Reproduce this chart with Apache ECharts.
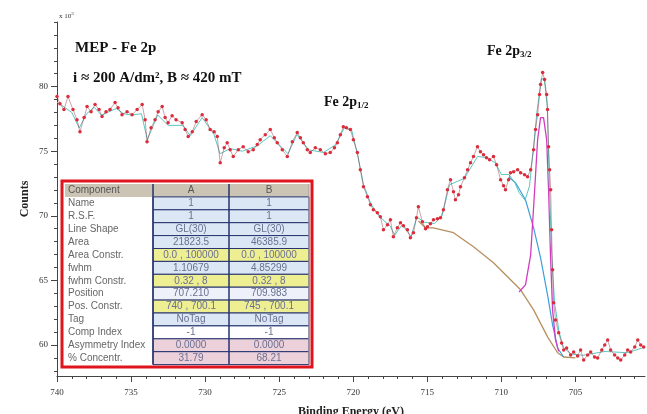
<!DOCTYPE html>
<html>
<head>
<meta charset="utf-8">
<script src="https://cdn.jsdelivr.net/npm/echarts@6/dist/echarts.min.js"></script>
<style>
html, body { margin: 0; padding: 0; background: #fff; }
#main { width: 647px; height: 414px; }
</style>
</head>
<body>
<div id="main"></div>
<script>
// measured spectrum (binding energy in eV, counts x10^3)
const energy = [740.00,739.80,739.53,739.26,738.92,738.65,738.45,738.17,737.97,737.70,737.43,737.16,736.96,736.69,736.42,736.08,735.88,735.61,735.27,734.93,734.59,734.25,734.05,733.92,733.65,733.38,733.17,732.90,732.70,732.50,732.23,731.96,731.55,731.35,731.14,730.87,730.60,730.20,729.93,729.66,729.39,729.18,728.98,728.71,728.51,728.31,728.10,727.76,727.43,727.09,726.75,726.48,726.28,725.94,725.60,725.33,725.13,724.79,724.45,724.11,723.78,723.57,723.37,723.10,722.90,722.56,722.22,721.88,721.55,721.27,721.07,720.87,720.67,720.46,720.19,719.99,719.72,719.52,719.31,719.04,718.84,718.64,718.37,718.17,717.96,717.69,717.49,717.29,717.02,716.81,716.61,716.34,716.14,715.93,715.73,715.60,715.33,715.12,714.99,714.79,714.58,714.31,714.11,713.91,713.64,713.43,713.23,713.10,712.89,712.76,712.49,712.28,712.08,711.88,711.61,711.41,711.20,711.00,710.80,710.53,710.32,710.05,709.85,709.72,709.51,709.38,709.17,708.90,708.70,708.43,708.23,708.02,707.82,707.69,707.55,707.42,707.35,707.21,707.08,706.94,706.88,706.81,706.74,706.67,706.61,706.54,706.47,706.34,706.13,705.93,705.79,705.59,705.32,705.12,704.85,704.65,704.44,704.17,703.97,703.70,703.50,703.22,703.02,702.82,702.62,702.35,702.14,701.94,701.67,701.47,701.27,700.99,700.79,700.59,700.39];
const counts = [79.23,78.68,78.22,79.23,78.22,77.44,76.51,77.60,78.45,78.06,78.61,78.22,77.68,78.06,78.22,78.76,78.37,77.83,78.06,77.83,78.22,78.61,77.44,75.74,76.82,77.44,78.06,78.45,77.60,77.21,77.75,77.44,77.21,76.67,76.13,76.51,77.29,77.83,77.44,76.67,76.51,76.13,74.11,75.27,75.66,75.12,74.58,75.12,75.35,74.96,75.12,75.51,75.89,76.28,76.67,76.05,75.66,75.12,74.58,75.74,76.44,76.05,75.66,75.12,74.89,75.27,75.12,74.81,74.89,75.27,75.66,76.28,76.90,76.82,76.67,75.89,74.89,73.57,72.25,71.48,70.86,70.47,70.24,69.93,68.92,69.31,69.69,68.38,69.07,69.46,69.23,68.92,68.30,68.69,69.85,70.70,69.54,69.00,69.15,69.38,69.69,69.77,69.85,70.47,72.02,72.79,71.86,71.24,71.63,72.25,72.95,73.57,74.11,74.58,75.35,74.96,74.73,74.50,74.34,74.58,73.96,72.79,72.33,72.02,72.79,73.34,73.41,73.57,73.34,73.18,73.03,73.57,75.12,76.67,77.83,79.38,80.16,81.09,80.54,79.38,78.22,75.35,73.57,72.02,68.92,65.82,63.26,61.94,60.94,60.16,59.62,59.77,59.23,59.46,59.15,59.62,58.84,59.23,59.46,59.07,58.99,59.62,60.00,60.39,59.62,59.23,58.99,58.84,59.23,59.62,59.46,59.85,60.39,60.00,59.85];

// fit envelope
const envE = [740,739,738.5,738,737.5,737,736,735.5,735,734.3,733.9,733.2,732.5,731.5,731,730.2,729.4,729,728.3,727.5,726.5,725.6,725,724.4,723.8,723,722,721.2,720.6,720.1,719.7,719.3,718.8,718.2,717.5,717.2,716.7,716.1,715.7,715.2,714.5,714,713.5,712.5,711.6,711,710.4,710,709.5,709.1,708.8,708.4,708.1,707.9,707.6,707.3,707.1,706.9,706.75,706.6,706.4,706.1,705.8,705.3,704.5,703,701.5,700.4];
const envC = [78.8,78.0,76.8,77.9,78.4,77.8,78.3,77.9,77.8,77.9,75.9,77.8,77.0,77.0,76.2,77.6,76.3,74.8,75.2,75.0,75.4,76.2,75.5,74.8,76.3,75.1,74.9,75.5,76.8,76.6,74.7,72.4,70.9,69.9,69.2,68.5,69.3,68.4,69.9,69.5,69.4,70.0,72.4,72.9,74.6,74.5,74.1,73.2,73.2,72.6,71.8,71.2,72.3,74.5,78.0,80.6,80.6,78.5,72.0,67.0,63.2,61.0,59.8,59.3,59.2,59.5,59.4,59.8];

// Shirley background
const bgE = [715.6,715.12,714.58,713.23,711.88,710.53,709.58,708.70,707.82,706.88,706.20,705.79,705.0];
const bgC = [69.6,69.07,69.07,68.69,67.60,66.36,65.28,64.27,62.72,60.63,59.40,59.07,59.0];

// component A
const compAE = [709.5,709.04,708.37,707.82,707.35,706.88,706.54,706.20,705.79];
const compAC = [73.0,72.56,71.24,69.07,66.75,63.88,61.56,59.77,59.07];

// component B
const compBE = [708.8,708.37,708.02,707.75,707.55,707.35,707.15,706.94,706.81,706.67,706.54,706.34,706.13];
const compBC = [64.1,64.65,66.98,72.0,75.9,77.6,77.6,75.9,72.0,66.6,62.7,60.4,59.5];

const xMajor = [740, 735, 730, 725, 720, 715, 710, 705];
const yMajor = [60, 65, 70, 75, 80];

// component table
const tableRows = ['Name','R.S.F.','Line Shape','Area','Area Constr.','fwhm','fwhm Constr.','Position','Pos. Constr.','Tag','Comp Index','Asymmetry Index','% Concentr.'];
const colA = ['1','1','GL(30)','21823.5','0.0 , 100000','1.10679','0.32 , 8','707.210','740 , 700.1','NoTag','-1','0.0000','31.79'];
const colB = ['1','1','GL(30)','46385.9','0.0 , 100000','4.85299','0.32 , 8','709.983','745 , 700.1','NoTag','-1','0.0000','68.21'];

function pairs(xs, ys) {
  return xs.map(function (x, i) { return [x, ys[i]]; });
}
function range(a, b) {
  var out = [];
  for (var v = a; v <= b; v++) out.push(v);
  return out;
}

var rowFill = ['#dce7f6','#dce7f6','#dce7f6','#dce7f6','#eeee92','#dce7f6','#eeee92','#eef1fa','#eeee92','#dce7f6','#ffffff','#ecd0da','#ecd0da'];

function buildTable() {
  var x0 = 62, y0 = 181, w = 250, h = 186;
  var g = [];
  g.push({ type: 'rect', shape: { x: x0, y: y0, width: w, height: h },
    style: { fill: '#fff', stroke: '#e0141c', lineWidth: 3 }, z: 100 });
  var cx = [65, 153, 229, 309];
  var top = 184, rh = 12.9;
  g.push({ type: 'rect', shape: { x: 65, y: top, width: 244, height: rh },
    style: { fill: '#cbc4b4' }, z: 101 });
  var tf = '10px "Liberation Sans", Arial, sans-serif';
  g.push({ type: 'text', x: 68, y: top + rh / 2, style: { text: 'Component', font: tf, fill: '#555', verticalAlign: 'middle' }, z: 103 });
  g.push({ type: 'text', x: 191, y: top + rh / 2, style: { text: 'A', font: tf, fill: '#555', align: 'center', verticalAlign: 'middle' }, z: 103 });
  g.push({ type: 'text', x: 269, y: top + rh / 2, style: { text: 'B', font: tf, fill: '#555', align: 'center', verticalAlign: 'middle' }, z: 103 });
  for (var i = 0; i < tableRows.length; i++) {
    var y = top + rh * (i + 1);
    g.push({ type: 'rect', shape: { x: cx[1], y: y, width: cx[3] - cx[1], height: rh },
      style: { fill: rowFill[i], stroke: '#26336e', lineWidth: 1 }, z: 101 });
    g.push({ type: 'text', x: 68, y: y + rh / 2, style: { text: tableRows[i], font: tf, fill: '#666', verticalAlign: 'middle' }, z: 103 });
    g.push({ type: 'text', x: 191, y: y + rh / 2, style: { text: colA[i], font: tf, fill: '#6a7090', align: 'center', verticalAlign: 'middle' }, z: 103 });
    g.push({ type: 'text', x: 269, y: y + rh / 2, style: { text: colB[i], font: tf, fill: '#6a7090', align: 'center', verticalAlign: 'middle' }, z: 103 });
  }
  var bottom = top + rh * (tableRows.length + 1);
  [cx[1], cx[2]].forEach(function (vx) {
    g.push({ type: 'line', shape: { x1: vx, y1: top, x2: vx, y2: bottom },
      style: { stroke: '#26336e', lineWidth: 1.5 }, z: 102 });
  });
  g.push({ type: 'line', shape: { x1: cx[3], y1: top, x2: cx[3], y2: bottom },
    style: { stroke: '#9a9a9a', lineWidth: 1 }, z: 102 });
  return g;
}

var serifBold = 'bold 15px "Liberation Serif", "Times New Roman", serif';
var labels = [
  { type: 'text', x: 75, y: 41, style: { text: 'MEP - Fe 2p', font: serifBold, fill: '#111' } },
  { type: 'text', x: 73, y: 71, style: { text: 'i ≈ 200 A/dm², B ≈ 420 mT', font: serifBold, fill: '#111' } },
  { type: 'text', x: 324, y: 94, style: {
    text: '{a|Fe 2p}{s|1/2}', fill: '#111',
    rich: { a: { font: 'bold 14px "Liberation Serif", serif', fill: '#111' },
            s: { font: 'bold 9px "Liberation Serif", serif', fill: '#111', padding: [7, 0, 0, 0] } } } },
  { type: 'text', x: 487, y: 43, style: {
    text: '{a|Fe 2p}{s|3/2}', fill: '#111',
    rich: { a: { font: 'bold 14px "Liberation Serif", serif', fill: '#111' },
            s: { font: 'bold 9px "Liberation Serif", serif', fill: '#111', padding: [7, 0, 0, 0] } } } },
  { type: 'text', x: 59, y: 11, style: {
    text: '{a|x 10}{b|3}', fill: '#333',
    rich: { a: { font: '7px "Liberation Serif", serif', fill: '#333' },
            b: { font: '5px "Liberation Serif", serif', fill: '#333', padding: [0, 0, 5, 0] } } } }
];

var myChart = echarts.init(document.getElementById('main'));

var axisLineStyle = { color: '#444', width: 1 };
var tickFont = { fontFamily: '"Liberation Serif", serif', fontSize: 9, color: '#333' };

var option = {
  animation: false,
  backgroundColor: '#fff',
  grid: { left: 57, right: 2, top: 22, bottom: 38, containLabel: false, outerBoundsMode: 'none' },
  xAxis: [
    {
      type: 'value', inverse: true, min: 700.3, max: 740,
      name: 'Binding Energy (eV)', nameLocation: 'middle', nameGap: 30, nameMoveOverlap: false,
      nameTextStyle: { fontFamily: '"Liberation Serif", serif', fontWeight: 'bold', fontSize: 12, color: '#222' },
      axisLine: { lineStyle: axisLineStyle },
      axisTick: { customValues: xMajor, length: 6, lineStyle: axisLineStyle },
      axisLabel: { customValues: xMajor, margin: 12, ...tickFont },
      splitLine: { show: false }
    },
    {
      type: 'value', inverse: true, min: 700.3, max: 740, position: 'bottom',
      axisLine: { show: false },
      axisTick: { customValues: range(701, 740), length: 3, lineStyle: axisLineStyle },
      axisLabel: { show: false },
      splitLine: { show: false }
    }
  ],
  yAxis: [
    {
      type: 'value', min: 57.6, max: 85,
      name: 'Counts', nameLocation: 'middle', nameGap: 26, nameRotate: 90, nameMoveOverlap: false,
      nameTextStyle: { fontFamily: '"Liberation Serif", serif', fontWeight: 'bold', fontSize: 12, color: '#222' },
      axisLine: { show: true, lineStyle: axisLineStyle },
      axisTick: { show: true, customValues: yMajor, length: 6, lineStyle: axisLineStyle },
      axisLabel: { customValues: yMajor, margin: 9, ...tickFont },
      splitLine: { show: false }
    },
    {
      type: 'value', min: 57.6, max: 85, position: 'left',
      axisLine: { show: false },
      axisTick: { show: true, customValues: range(58, 85), length: 3, lineStyle: axisLineStyle },
      axisLabel: { show: false },
      splitLine: { show: false }
    }
  ],
  series: [
    {
      name: 'Background', type: 'line', data: pairs(bgE, bgC), showSymbol: false,
      lineStyle: { color: '#b89060', width: 1.3 }, z: 2
    },
    {
      name: 'A', type: 'line', data: pairs(compAE, compAC), showSymbol: false,
      lineStyle: { color: '#3b9fd8', width: 1.2 }, z: 2
    },
    {
      name: 'B', type: 'line', data: pairs(compBE, compBC), showSymbol: false,
      lineStyle: { color: '#d23cc0', width: 1.3 }, z: 3
    },
    {
      name: 'Envelope', type: 'line', data: pairs(envE, envC), showSymbol: false,
      lineStyle: { color: '#5cc6c0', width: 1 }, z: 3
    },
    {
      name: 'Data', type: 'line', data: pairs(energy, counts),
      symbol: 'circle', symbolSize: 3.5,
      itemStyle: { color: '#dc2c3c' },
      lineStyle: { color: '#8a2a3a', width: 0.8, opacity: 0.55 }, z: 4
    }
  ],
  graphic: labels.concat(buildTable())
};

myChart.setOption(option);
</script>
</body>
</html>
